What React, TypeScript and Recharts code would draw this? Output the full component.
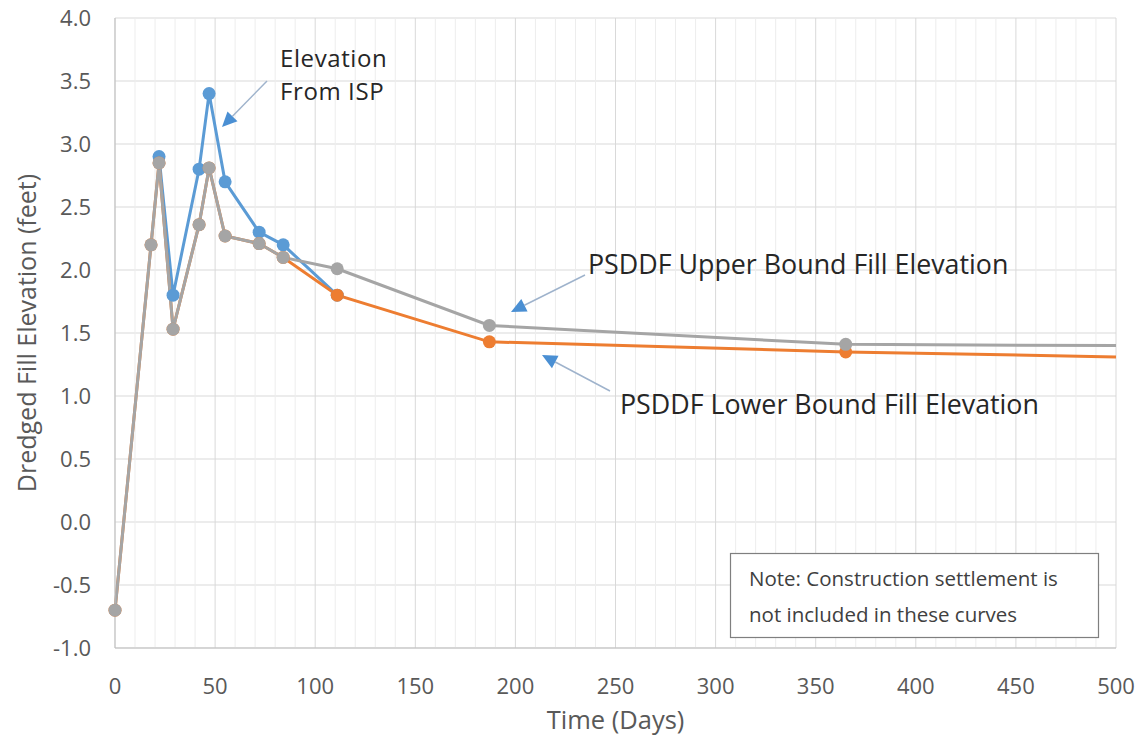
import { LineChart, Line, XAxis, YAxis, CartesianGrid, ReferenceLine } from "recharts"

// PSDDF upper / lower bound curves (days, feet)
const PSDDF_DAYS = [0, 18, 22, 29, 42, 47, 55, 72, 84, 111, 187, 365, 500]
const UPPER_BOUND = [-0.7, 2.2, 2.85, 1.53, 2.36, 2.81, 2.27, 2.21, 2.1, 2.01, 1.56, 1.41, 1.4]
const LOWER_BOUND = [-0.7, 2.2, 2.85, 1.53, 2.36, 2.81, 2.27, 2.21, 2.1, 1.8, 1.43, 1.35, 1.31]

// elevations measured from ISP
const ISP_DAYS = [22, 29, 42, 47, 55, 72, 84, 111]
const ISP_ELEV = [2.9, 1.8, 2.8, 3.4, 2.7, 2.3, 2.2, 1.8]

const X_TICKS = [0, 50, 100, 150, 200, 250, 300, 350, 400, 450, 500]
const Y_TICKS = [-1, -0.5, 0, 0.5, 1, 1.5, 2, 2.5, 3, 3.5, 4]
const MINOR_X = Array.from({ length: 51 }, (_, i) => i * 10).filter((v) => v % 50 !== 0)

const upperData = PSDDF_DAYS.map((d, i) => ({ day: d, value: UPPER_BOUND[i] }))
const lowerData = PSDDF_DAYS.map((d, i) => ({ day: d, value: LOWER_BOUND[i] }))
const ispData = ISP_DAYS.map((d, i) => ({ day: d, value: ISP_ELEV[i] }))

const FONT = "'Open Sans', sans-serif"
const TEXT = "#595959"
const BLUE = "#5b9bd5"
const ORANGE = "#ed7d31"
const GRAY = "#a5a5a5"

const makeDot = (color: string) => (props: any) => {
  const { cx, cy, payload, index } = props
  if (payload.day === 500) return <g key={index} />
  return <circle key={index} cx={cx} cy={cy} r={6.5} fill={color} stroke="none" />
}

const Arrow = ({ x1, y1, x2, y2 }: { x1: number; y1: number; x2: number; y2: number }) => {
  const ang = Math.atan2(y2 - y1, x2 - x1)
  const len = 15
  const w = 7
  const bx = x2 - len * Math.cos(ang)
  const by = y2 - len * Math.sin(ang)
  const px = -Math.sin(ang) * w
  const py = Math.cos(ang) * w
  return (
    <g>
      <line x1={x1} y1={y1} x2={bx} y2={by} stroke="#9fb3cc" strokeWidth={1.5} />
      <polygon points={`${x2},${y2} ${bx + px},${by + py} ${bx - px},${by - py}`} fill="#4a8fd3" />
    </g>
  )
}

export default function App() {
  return (
    <div style={{ position: "absolute", left: 0, top: 0, width: 1137, height: 742, background: "#fff", fontFamily: FONT }}>
      <LineChart width={1137} height={742} margin={{ top: 18, right: 21, left: 0, bottom: 0 }}>
        <CartesianGrid stroke="#d9d9d9" vertical={true} />
        {MINOR_X.map((v) => (
          <ReferenceLine key={v} x={v} stroke="#ededed" strokeWidth={1} />
        ))}
        <XAxis
          dataKey="day"
          type="number"
          domain={[0, 500]}
          ticks={X_TICKS}
          allowDuplicatedCategory={false}
          height={94}
          tickLine={false}
          tickSize={0}
          tickMargin={30}
          axisLine={{ stroke: "#bfbfbf" }}
          tick={{ fill: TEXT, fontSize: 22, fontFamily: FONT }}
          label={{
            content: (p: any) => (
              <text x={p.viewBox.x + p.viewBox.width / 2} y={729} textAnchor="middle" fill={TEXT} fontSize={25.5} fontFamily={FONT}>
                Time (Days)
              </text>
            ),
          }}
        />
        <YAxis
          type="number"
          domain={[-1, 4]}
          ticks={Y_TICKS}
          width={115}
          tickLine={false}
          tickSize={0}
          tickMargin={24}
          axisLine={{ stroke: "#bfbfbf" }}
          tickFormatter={(v: number) => v.toFixed(1)}
          tick={{ fill: TEXT, fontSize: 22, fontFamily: FONT }}
          label={{
            content: (p: any) => (
              <text
                x={36}
                y={p.viewBox.y + p.viewBox.height / 2}
                transform={`rotate(-90, 36, ${p.viewBox.y + p.viewBox.height / 2})`}
                textAnchor="middle"
                fill={TEXT}
                fontSize={25}
                fontFamily={FONT}
              >
                Dredged Fill Elevation (feet)
              </text>
            ),
          }}
        />
        <Line data={ispData} dataKey="value" type="linear" stroke={BLUE} strokeWidth={3} dot={makeDot(BLUE)} activeDot={false} isAnimationActive={false} />
        <Line data={lowerData} dataKey="value" type="linear" stroke={ORANGE} strokeWidth={3} dot={makeDot(ORANGE)} activeDot={false} isAnimationActive={false} />
        <Line data={upperData} dataKey="value" type="linear" stroke={GRAY} strokeWidth={3} dot={makeDot(GRAY)} activeDot={false} isAnimationActive={false} />
      </LineChart>

      <svg width={1137} height={742} style={{ position: "absolute", left: 0, top: 0, pointerEvents: "none" }}>
        <g fontFamily={FONT} fill="#262626">
          <text x={280} y={67} fontSize={24} letterSpacing={0.6}>Elevation</text>
          <text x={280} y={100} fontSize={24} letterSpacing={0.6}>From ISP</text>
          <text x={588} y={274} fontSize={26.8}>PSDDF Upper Bound Fill Elevation</text>
          <text x={620} y={414} fontSize={26.8}>PSDDF Lower Bound Fill Elevation</text>
        </g>
        <Arrow x1={267} y1={81} x2={222} y2={127} />
        <Arrow x1={585} y1={275} x2={511} y2={312} />
        <Arrow x1={610} y1={391} x2={542} y2={355} />
        <rect x={730.5} y={553.5} width={368} height={84} fill="#fff" stroke="#7f7f7f" strokeWidth={1.2} />
        <g fontFamily={FONT} fill="#404040" fontSize={20.5}>
          <text x={749} y={586}>Note: Construction settlement is</text>
          <text x={749} y={622}>not included in these curves</text>
        </g>
      </svg>
    </div>
  )
}
